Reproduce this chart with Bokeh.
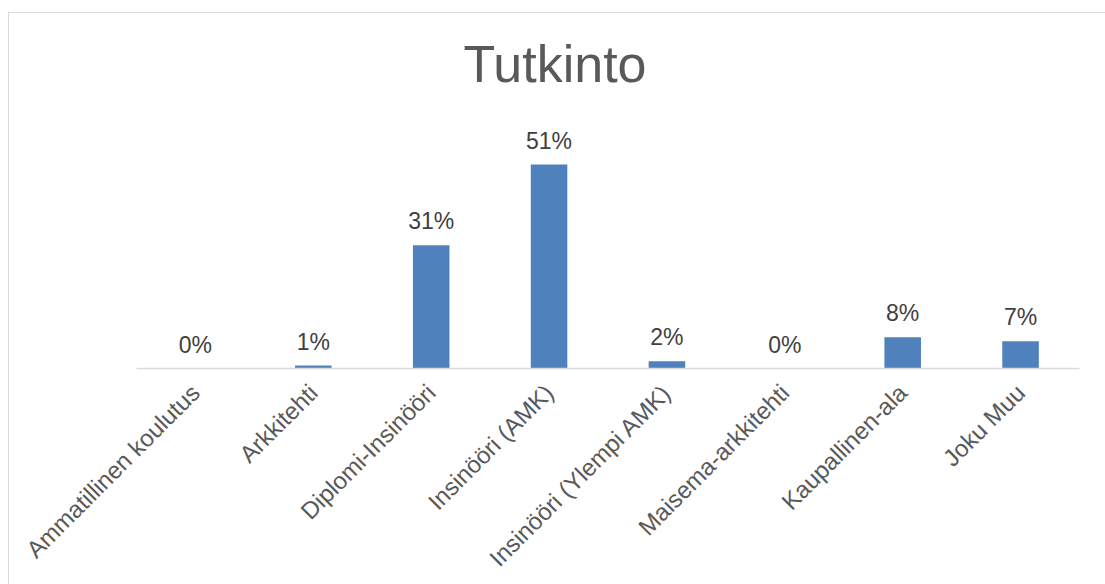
from bokeh.plotting import figure
from bokeh.models import ColumnDataSource, LabelSet, FactorRange
from bokeh.core.properties import value
from bokeh.embed import file_html
from bokeh.resources import INLINE
import math

categories = ["Ammatillinen koulutus", "Arkkitehti", "Diplomi-Insinööri", "Insinööri (AMK)",
              "Insinööri (Ylempi AMK)", "Maisema-arkkitehti", "Kaupallinen-ala", "Joku Muu"]
values = [0.0, 0.75, 30.8, 51.0, 1.8, 0.0, 7.8, 6.8]
value_labels = ["0%", "1%", "31%", "51%", "2%", "0%", "8%", "7%"]
title_text = "Tutkinto"

FONT = "Liberation Sans"

src = ColumnDataSource(dict(cat=categories, val=values, lab=value_labels))

p = figure(x_range=FactorRange(factors=categories, range_padding=0), y_range=(0, 67.75),
           width=1096, height=571, output_backend="svg", toolbar_location=None,
           min_border_left=127, min_border_right=26, min_border_top=84, min_border_bottom=216,
           margin=(13, 0, 0, 9),
           styles={"outline": "1.5px solid #d9d9d9"})

p.vbar(x="cat", top="val", width=0.31, source=src, fill_color="#4F81BD", line_color=None)

labels = LabelSet(x="cat", y="val", text="lab", source=src, y_offset=16,
                  text_align="center", text_baseline="alphabetic",
                  text_font=value(FONT), text_font_size=value("23px"), text_color=value("#404040"))
p.add_layout(labels)

p.yaxis.visible = False
p.xgrid.visible = False
p.ygrid.visible = False
p.outline_line_color = None

ax = p.xaxis[0]
ax.axis_line_color = "#d9d9d9"
ax.axis_line_width = 1.5
ax.major_tick_line_color = None
ax.minor_tick_line_color = None
ax.major_label_orientation = math.pi / 4
ax.major_label_standoff = 14
ax.major_label_text_font = FONT
ax.major_label_text_font_size = "24px"
ax.major_label_text_color = "#595959"

p.title.text = title_text
p.title.align = "left"
p.title.offset = 327
p.title.standoff = 10
p.title.text_font = FONT
p.title.text_font_size = "52px"
p.title.text_font_style = "normal"
p.title.text_color = "#595959"

open("out.html", "w").write(file_html(p, INLINE))
